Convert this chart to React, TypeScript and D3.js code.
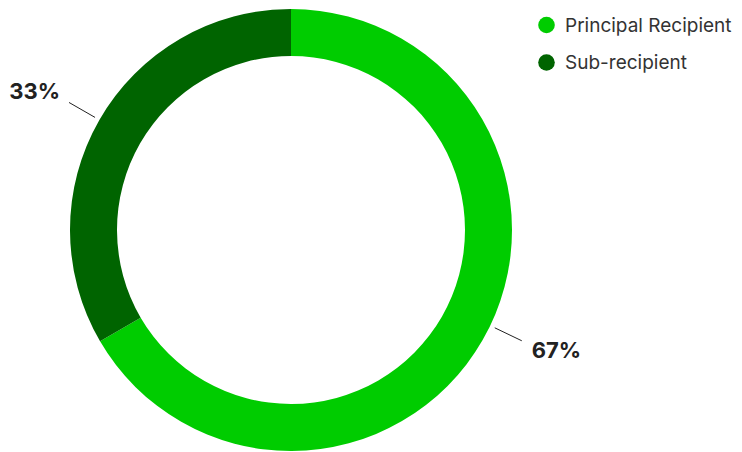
import React from "react";
import * as d3 from "d3";

const categories = ["Principal Recipient", "Sub-recipient"];
const values = [66.6, 33.4];
const colors = ["#00cc00", "#006400"];

const W = 742;
const H = 452;

export default function App() {
  const cx = 291;
  const cy = 230;
  const outerR = 221;
  const innerR = 174;
  const pie = d3.pie<number>().sort(null).value((d) => d)(values);
  const arc = d3.arc<d3.PieArcDatum<number>>().innerRadius(innerR).outerRadius(outerR);
  const total = d3.sum(values);
  const fmt = (v: number) => `${Math.round((v / total) * 100)}%`;

  return (
    <svg
      width={W}
      height={H}
      style={{ position: "absolute", left: 0, top: 0, fontFamily: "Inter, sans-serif" }}
    >
      <g transform={`translate(${cx},${cy})`}>
        {pie.map((p, i) => (
          <path key={i} d={arc(p) || ""} fill={colors[i]} />
        ))}
        {pie.map((p, i) => {
          const mid = (p.startAngle + p.endAngle) / 2;
          const right = Math.sin(mid) > 0;
          const a = right ? mid - 0.074 : mid;
          const sx = Math.sin(a);
          const sy = -Math.cos(a);
          const r1 = outerR + 5;
          const r2 = outerR + 35;
          const tx = r2 * sx + (right ? 10 : -9);
          const ty = r2 * sy + (right ? 17 : -3);
          return (
            <g key={"l" + i}>
              <line x1={r1 * sx} y1={r1 * sy} x2={r2 * sx} y2={r2 * sy} stroke="#222" strokeWidth={1} />
              <text
                x={tx}
                y={ty}
                textAnchor={right ? "start" : "end"}
                fontSize={22}
                fontWeight={700}
                fill="#222"
              >
                {fmt(p.data)}
              </text>
            </g>
          );
        })}
      </g>
      {categories.map((c, i) => (
        <g key={c} transform={`translate(546.5,${25 + i * 37.5})`}>
          <circle r={8.3} fill={colors[i]} />
          <text x={18.5} y={6.8} fontSize={19} fill="#333">
            {c}
          </text>
        </g>
      ))}
    </svg>
  );
}
